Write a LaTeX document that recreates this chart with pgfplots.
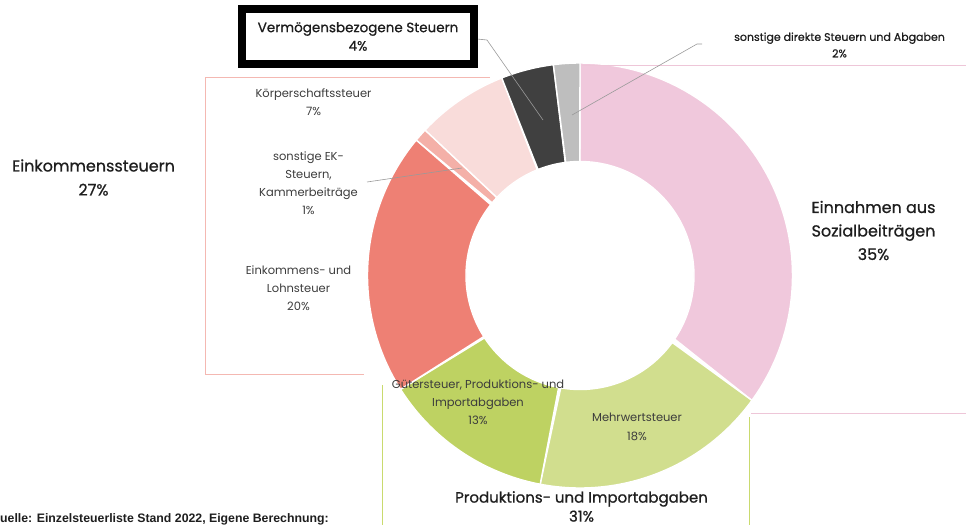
\documentclass[border=0pt]{standalone}
\usepackage{pgfplots}
\pgfplotsset{compat=1.18}
\usepackage{fontspec}
\setmainfont{Poppins}
\newfontfamily\pmed{Poppins}[FakeBold=0.8]
\newfontfamily\plight{Poppins}
\newfontfamily\arialf{Liberation Sans}
\definecolor{cSoz}{HTML}{F0C8DC}
\definecolor{cMwSt}{HTML}{D1DE8E}
\definecolor{cGut}{HTML}{BED262}
\definecolor{cEink}{HTML}{EE8074}
\definecolor{cEK}{HTML}{F4B0A8}
\definecolor{cKoer}{HTML}{F9DCDA}
\definecolor{cVerm}{HTML}{404040}
\definecolor{cSonst}{HTML}{BEBEBE}
\definecolor{cLine}{HTML}{9A9A9A}
\definecolor{cBrPink}{HTML}{F4B8B2}
\definecolor{cBrGreen}{HTML}{C9DA6E}
\definecolor{cBrSoz}{HTML}{EEC6D8}
\definecolor{cTxt}{HTML}{3C3C3C}
\definecolor{cBig}{HTML}{1E1E1E}
% ring sector: #1 = cumulative share before (%), #2 = cumulative share after (%), #3 = colour
\newcommand{\slice}[3]{%
  \addplot[fill=#3, draw=white, line width=1.4pt, domain=0:2, samples=121, variable=\u]
  ({580+(\u<=1?212.5:114)*cos(\u<=1?(90-3.6*(#1+(#2-#1)*\u)):(90-3.6*(#2-(#2-#1)*(\u-1))))},
   {275.5-(\u<=1?212.5:114)*sin(\u<=1?(90-3.6*(#1+(#2-#1)*\u)):(90-3.6*(#2-(#2-#1)*(\u-1))))}) -- cycle;}
\begin{document}
\begin{tikzpicture}
\begin{axis}[at={(0,0)}, anchor=south west, width=966pt, height=525pt, scale only axis,
  xmin=0, xmax=966, ymin=0, ymax=525, y dir=reverse, axis lines=none, clip=false]
% shares (%): 35, 18, 13, 20, 1, 7, 4, 2  -> cumulative
\slice{0}{35}{cSoz}
\slice{35}{53}{cMwSt}
\slice{53}{66}{cGut}
\slice{66}{86}{cEink}
\slice{86}{87}{cEK}
\slice{87}{94}{cKoer}
\slice{94}{98}{cVerm}
\slice{98}{100}{cSonst}
% brackets
\addplot[cBrPink, line width=1pt] coordinates {(490,77) (205,77) (205,374) (364,374)};
\addplot[cBrGreen, line width=1pt] coordinates {(382,385) (382,525)};
\addplot[cBrGreen, line width=1pt] coordinates {(749,417) (749,525)};
\addplot[cBrSoz, line width=1pt] coordinates {(582,65) (966,65)};
\addplot[cBrSoz, line width=1pt] coordinates {(751,413) (966,413)};
% leader lines
\addplot[cLine, line width=0.6pt] coordinates {(367,182) (462,168)};
\addplot[cLine, line width=0.6pt] coordinates {(477,39) (487,40) (543,120)};
\addplot[cLine, line width=0.6pt] coordinates {(572,115) (697,44) (702,44)};
% labels
\node[font=\plight\fontsize{11.5}{18}\selectfont, text=cTxt, align=center] at (axis cs:313.5,102.5) {Körperschaftssteuer\\7\%};
\node[font=\plight\fontsize{11.5}{18}\selectfont, text=cTxt, align=center] at (axis cs:308.5,183.5) {sonstige EK-\\Steuern,\\Kammerbeiträge\\1\%};
\node[font=\plight\fontsize{11.5}{18}\selectfont, text=cTxt, align=center] at (axis cs:298.5,288) {Einkommens- und\\Lohnsteuer\\20\%};
\node[font=\plight\fontsize{11.5}{18}\selectfont, text=cTxt, align=center] at (axis cs:478,402) {Gütersteuer, Produktions- und\\Importabgaben\\13\%};
\node[font=\plight\fontsize{11.5}{19}\selectfont, text=cTxt, align=center] at (axis cs:637,426.5) {Mehrwertsteuer\\18\%};
\node[font=\pmed\fontsize{16}{23.5}\selectfont, text=cBig, align=center] at (axis cs:873.5,230.5) {Einnahmen aus\\Sozialbeiträgen\\35\%};
\node[font=\pmed\fontsize{16}{24}\selectfont, text=cBig, align=center] at (axis cs:93.5,177.5) {Einkommenssteuern\\27\%};
\node[font=\pmed\fontsize{15}{19}\selectfont, text=cBig, align=center, inner sep=1pt] at (axis cs:581.5,506.5) {Produktions- und Importabgaben\\31\%};
\node[font=\pmed\fontsize{11}{16.5}\selectfont, text=cBig, align=center] at (axis cs:839.5,45) {sonstige direkte Steuern und Abgaben\\2\%};
\node[draw=black, line width=8pt, fill=white, minimum width=232pt, minimum height=55pt, inner sep=0pt,
  font=\pmed\fontsize{13.5}{18.5}\selectfont, text=cBig, align=center] at (axis cs:358,36.5) {Vermögensbezogene Steuern\\4\%};
\node[anchor=base west, inner sep=0pt, font=\arialf\bfseries\fontsize{12.3}{14}\selectfont, text=cBig] at (axis cs:-9.6,522) {Quelle: Einzelsteuerliste Stand 2022, Eigene Berechnung:};
\end{axis}
\pgfresetboundingbox
\path[use as bounding box] (0,0) rectangle (966pt,525pt);
\end{tikzpicture}
\end{document}
